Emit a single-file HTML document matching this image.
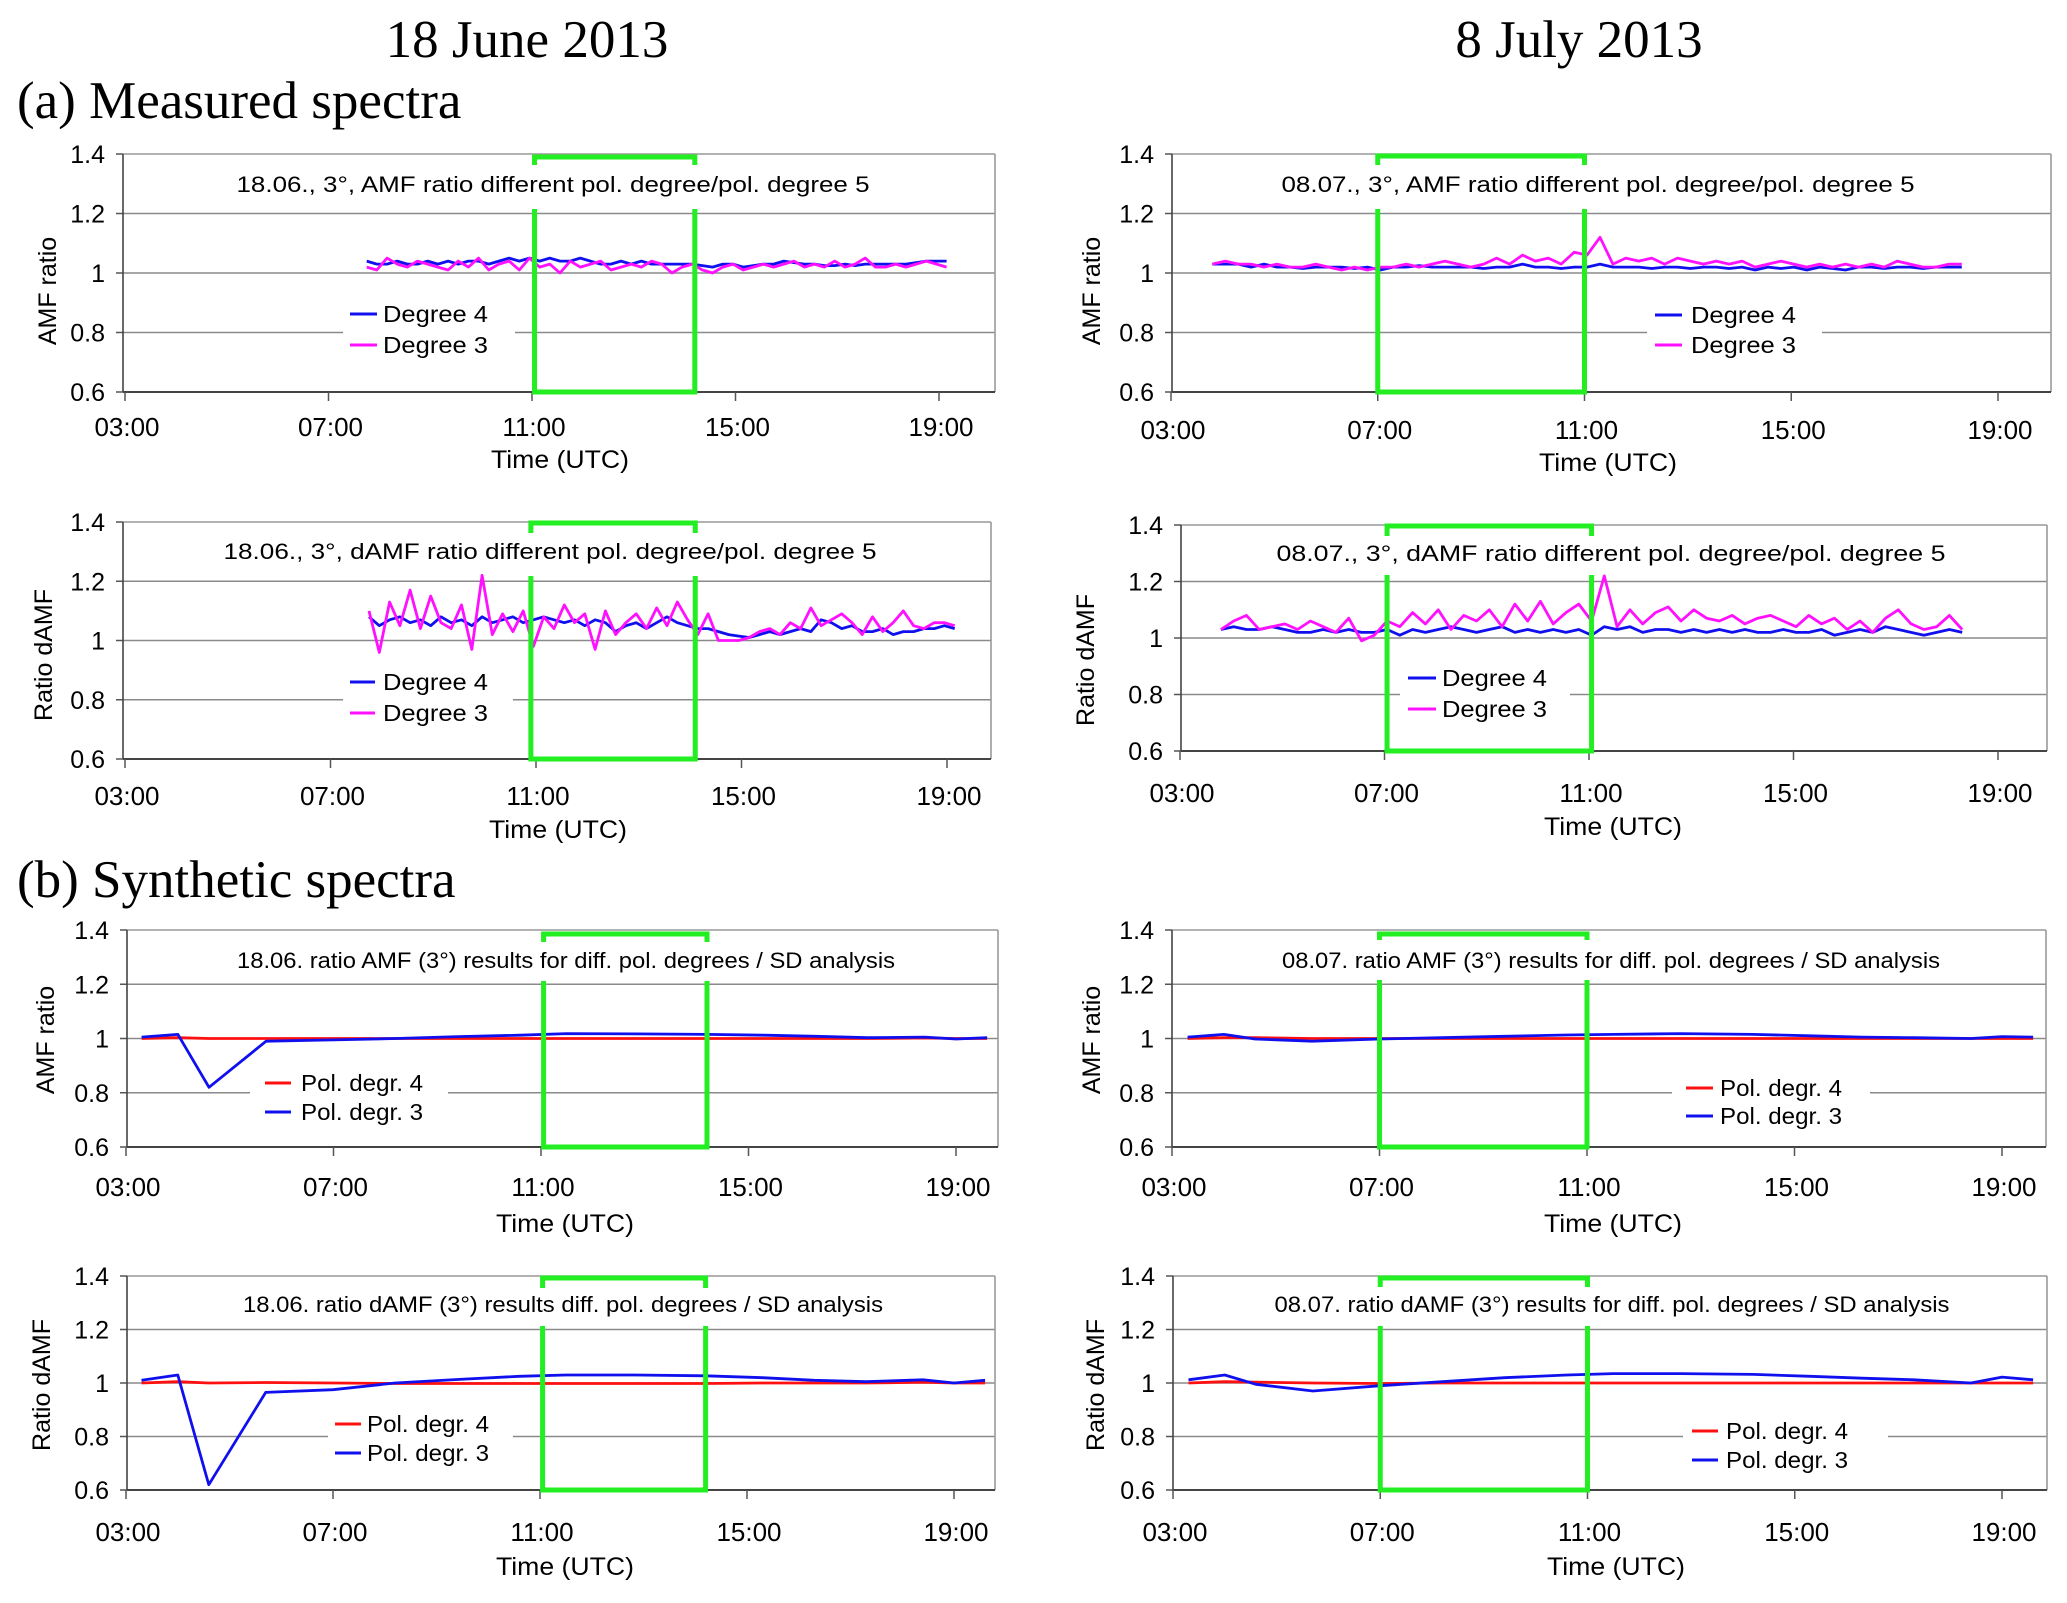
<!DOCTYPE html>
<html><head><meta charset="utf-8"><style>
html,body{margin:0;padding:0;background:#fff;}
svg{display:block;}
text{font-family:"Liberation Sans",Arial,sans-serif;fill:#000;}
.serif{font-family:"Liberation Serif","Times New Roman",serif;}
</style></head><body>
<svg id="fig" width="2067" height="1603" viewBox="0 0 2067 1603" xmlns="http://www.w3.org/2000/svg">
<text class="serif" x="527" y="57" font-size="53" text-anchor="middle">18 June 2013</text>
<text class="serif" x="1579" y="57" font-size="53" text-anchor="middle">8 July 2013</text>
<text class="serif" x="17" y="118" font-size="53">(a) Measured spectra</text>
<text class="serif" x="17" y="897" font-size="53">(b) Synthetic spectra</text>
</svg>
<script>
// ---- data ----
const yTicks = [0.6, 0.8, 1.0, 1.2, 1.4];
const yTickLabels = ["0.6", "0.8", "1", "1.2", "1.4"];
const xTicks = [3, 7, 11, 15, 19];
const xTickLabels = ["03:00", "07:00", "11:00", "15:00", "19:00"];

const p1Start = 7.75, p1Step = 0.2;
const p1Deg4 = [1.04,1.03,1.03,1.04,1.03,1.03,1.04,1.03,1.04,1.03,1.04,1.04,1.03,1.04,1.05,1.04,1.05,1.04,1.05,1.04,1.04,1.05,1.04,1.03,1.03,1.04,1.03,1.04,1.03,1.03,1.03,1.03,1.03,1.025,1.02,1.03,1.03,1.02,1.025,1.03,1.03,1.04,1.035,1.03,1.03,1.025,1.025,1.03,1.025,1.03,1.03,1.03,1.03,1.03,1.035,1.04,1.04,1.04];
const p1Deg3 = [1.02,1.01,1.05,1.03,1.02,1.04,1.03,1.02,1.01,1.04,1.02,1.05,1.01,1.03,1.04,1.01,1.05,1.02,1.03,1.00,1.04,1.02,1.03,1.04,1.01,1.02,1.03,1.02,1.04,1.03,1.00,1.02,1.03,1.01,1.00,1.02,1.03,1.01,1.02,1.03,1.02,1.03,1.04,1.02,1.03,1.02,1.04,1.02,1.03,1.05,1.02,1.02,1.03,1.02,1.03,1.04,1.03,1.02];

const p2Start = 7.75, p2Step = 0.2;
const p2Deg4 = [1.08,1.05,1.07,1.08,1.06,1.07,1.05,1.08,1.06,1.07,1.05,1.08,1.06,1.07,1.08,1.06,1.07,1.08,1.07,1.06,1.07,1.05,1.07,1.06,1.03,1.05,1.06,1.04,1.06,1.08,1.06,1.05,1.04,1.04,1.03,1.02,1.015,1.01,1.02,1.03,1.02,1.03,1.04,1.03,1.07,1.06,1.04,1.05,1.03,1.03,1.04,1.02,1.03,1.03,1.04,1.04,1.05,1.04];
const p2Deg3 = [1.10,0.96,1.13,1.05,1.17,1.04,1.15,1.06,1.04,1.12,0.97,1.22,1.02,1.09,1.03,1.10,0.98,1.08,1.04,1.12,1.06,1.09,0.97,1.10,1.02,1.06,1.09,1.04,1.11,1.05,1.13,1.07,1.02,1.09,1.00,1.00,1.00,1.01,1.03,1.04,1.02,1.06,1.04,1.11,1.05,1.07,1.09,1.06,1.02,1.08,1.03,1.06,1.10,1.05,1.04,1.06,1.06,1.05];

const p3Start = 3.8, p3Step = 0.25;
const p3Deg4 = [1.03,1.03,1.03,1.02,1.03,1.02,1.02,1.015,1.02,1.02,1.02,1.015,1.02,1.01,1.02,1.02,1.025,1.02,1.02,1.02,1.02,1.015,1.02,1.02,1.03,1.02,1.02,1.015,1.02,1.02,1.03,1.02,1.02,1.02,1.015,1.02,1.02,1.015,1.02,1.02,1.015,1.02,1.01,1.02,1.015,1.02,1.01,1.02,1.015,1.01,1.02,1.02,1.015,1.02,1.02,1.015,1.02,1.02,1.02];
const p3Deg3 = [1.03,1.04,1.03,1.03,1.02,1.03,1.02,1.02,1.03,1.02,1.01,1.02,1.01,1.02,1.02,1.03,1.02,1.03,1.04,1.03,1.02,1.03,1.05,1.03,1.06,1.04,1.05,1.03,1.07,1.06,1.12,1.03,1.05,1.04,1.05,1.03,1.05,1.04,1.03,1.04,1.03,1.04,1.02,1.03,1.04,1.03,1.02,1.03,1.02,1.03,1.02,1.03,1.02,1.04,1.03,1.02,1.02,1.03,1.03];

const p4Start = 3.8, p4Step = 0.25;
const p4Deg4 = [1.03,1.04,1.03,1.03,1.04,1.03,1.02,1.02,1.03,1.02,1.03,1.02,1.02,1.03,1.01,1.03,1.02,1.03,1.04,1.03,1.02,1.03,1.04,1.02,1.03,1.02,1.03,1.02,1.03,1.01,1.04,1.03,1.04,1.02,1.03,1.03,1.02,1.03,1.02,1.03,1.02,1.03,1.02,1.02,1.03,1.02,1.02,1.03,1.01,1.02,1.03,1.02,1.04,1.03,1.02,1.01,1.02,1.03,1.02];
const p4Deg3 = [1.03,1.06,1.08,1.03,1.04,1.05,1.03,1.06,1.04,1.02,1.07,0.99,1.01,1.06,1.04,1.09,1.05,1.10,1.03,1.08,1.06,1.10,1.04,1.12,1.06,1.13,1.05,1.09,1.12,1.06,1.22,1.04,1.10,1.05,1.09,1.11,1.06,1.10,1.07,1.06,1.08,1.05,1.07,1.08,1.06,1.04,1.08,1.05,1.07,1.03,1.06,1.02,1.07,1.10,1.05,1.03,1.04,1.08,1.03];

const synthTimes = [3.3,4.0,4.6,5.7,7.0,8.2,9.4,10.6,11.5,12.8,14.2,15.3,16.3,17.3,18.4,19.0,19.6];
const p5Red  = [1.0,1.003,1.0,1.0,1.0,1.0,1.0,1.0,1.0,1.0,1.0,1.0,1.0,1.0,1.002,1.0,1.0];
const p5Blue = [1.005,1.015,0.82,0.99,0.995,1.0,1.007,1.012,1.018,1.017,1.015,1.012,1.008,1.003,1.005,0.998,1.003];
const p6Red  = [1.0,1.005,1.0,1.002,1.0,0.998,0.998,0.998,0.998,0.998,0.998,1.0,1.0,1.0,1.003,1.0,1.0];
const p6Blue = [1.01,1.03,0.62,0.965,0.975,1.0,1.013,1.025,1.03,1.03,1.027,1.02,1.01,1.005,1.012,1.0,1.01];
const p7Red  = [1.0,1.003,1.003,1.0,1.0,1.0,1.0,1.0,1.0,1.0,1.0,1.0,1.0,1.0,1.0,1.0,1.0];
const p7Blue = [1.005,1.015,0.998,0.99,0.998,1.003,1.008,1.013,1.015,1.018,1.015,1.01,1.005,1.003,1.0,1.007,1.005];
const p8Red  = [1.0,1.005,1.003,1.0,0.998,1.0,1.0,1.0,1.0,1.0,1.0,1.0,1.0,1.0,1.0,1.0,1.0];
const p8Blue = [1.012,1.03,0.995,0.97,0.99,1.005,1.02,1.03,1.035,1.035,1.032,1.025,1.018,1.012,1.0,1.022,1.012];

const greenJune = [11.05, 14.2];
const greenJuly = [7.0, 11.0];

function seqTimes(start, step, n){ const t=[]; for(let i=0;i<n;i++) t.push(start+i*step); return t; }

// ---- layout (pixels) ----
const panels = [
 {id:'p1', L:123,R:995,T:154,B:392,x3:125,x19:939, title:"18.06., 3°, AMF ratio different pol. degree/pol. degree 5", tx:553,ty:192,tw:633, ylab:"AMF ratio", ylx:48,yly:291,
  series:[{t:seqTimes(p1Start,p1Step,p1Deg4.length),v:p1Deg4,c:'#1010ee',n:'degree-4'},{t:seqTimes(p1Start,p1Step,p1Deg3.length),v:p1Deg3,c:'#ff10ff',n:'degree-3'}],
  green:greenJune, gTop:157, gGap:[165,209],
  leg:{x1:350,x2:377,tx:383,y1:314,y2:345,bx1:343,bx2:515,labels:["Degree 4","Degree 3"],tw:105}, tickY:436, timeX:560,timeY:468},
 {id:'p2', L:123,R:991,T:522,B:759,x3:125,x19:947, title:"18.06., 3°, dAMF ratio different pol. degree/pol. degree 5", tx:550,ty:559,tw:653, ylab:"Ratio dAMF", ylx:44,yly:655,
  series:[{t:seqTimes(p2Start,p2Step,p2Deg4.length),v:p2Deg4,c:'#1010ee',n:'degree-4'},{t:seqTimes(p2Start,p2Step,p2Deg3.length),v:p2Deg3,c:'#ff10ff',n:'degree-3'}],
  green:[10.9, 14.1], gTop:523, gGap:[533,576],
  leg:{x1:350,x2:375,tx:383,y1:682,y2:713,bx1:343,bx2:513,labels:["Degree 4","Degree 3"],tw:105}, tickY:805, timeX:558,timeY:838},
 {id:'p3', L:1172,R:2051,T:154,B:392,x3:1171,x19:1998, title:"08.07., 3°, AMF ratio different pol. degree/pol. degree 5", tx:1598,ty:192,tw:633, ylab:"AMF ratio", ylx:1092,yly:291,
  series:[{t:seqTimes(p3Start,p3Step,p3Deg4.length),v:p3Deg4,c:'#1010ee',n:'degree-4'},{t:seqTimes(p3Start,p3Step,p3Deg3.length),v:p3Deg3,c:'#ff10ff',n:'degree-3'}],
  green:greenJuly, gTop:156, gGap:[165,209],
  leg:{x1:1655,x2:1682,tx:1691,y1:315,y2:345,bx1:1647,bx2:1822,labels:["Degree 4","Degree 3"],tw:105}, tickY:439, timeX:1608,timeY:471},
 {id:'p4', L:1181,R:2047,T:525,B:751,x3:1180,x19:1998, title:"08.07., 3°, dAMF ratio different pol. degree/pol.   degree 5", tx:1611,ty:561,tw:669, ylab:"Ratio dAMF", ylx:1086,yly:660,
  series:[{t:seqTimes(p4Start,p4Step,p4Deg4.length),v:p4Deg4,c:'#1010ee',n:'degree-4'},{t:seqTimes(p4Start,p4Step,p4Deg3.length),v:p4Deg3,c:'#ff10ff',n:'degree-3'}],
  green:[7.05, 11.05], gTop:526, gGap:[536,575],
  leg:{x1:1408,x2:1436,tx:1442,y1:678,y2:709,bx1:1400,bx2:1570,labels:["Degree 4","Degree 3"],tw:105}, tickY:802, timeX:1613,timeY:835},
 {id:'p5', L:127,R:998,T:930,B:1147,x3:126,x19:956, title:"18.06. ratio AMF (3°) results for diff. pol. degrees / SD analysis", tx:566,ty:968,tw:658, ylab:"AMF ratio", ylx:46,yly:1040,
  series:[{t:synthTimes,v:p5Red,c:'#ff1010',n:'pol-degr-4'},{t:synthTimes,v:p5Blue,c:'#1010ee',n:'pol-degr-3'}],
  green:greenJune, gTop:934, gGap:[942,981],
  leg:{x1:265,x2:291,tx:301,y1:1083,y2:1112,bx1:250,bx2:448,labels:["Pol. degr. 4","Pol. degr. 3"],tw:122}, tickY:1196, timeX:565,timeY:1232},
 {id:'p6', L:127,R:995,T:1276,B:1490,x3:126,x19:954, title:"18.06. ratio dAMF (3°) results diff. pol. degrees / SD analysis", tx:563,ty:1312,tw:640, ylab:"Ratio dAMF", ylx:42,yly:1385,
  series:[{t:synthTimes,v:p6Red,c:'#ff1010',n:'pol-degr-4'},{t:synthTimes,v:p6Blue,c:'#1010ee',n:'pol-degr-3'}],
  green:greenJune, gTop:1278, gGap:[1288,1326],
  leg:{x1:335,x2:361,tx:367,y1:1424,y2:1453,bx1:328,bx2:513,labels:["Pol. degr. 4","Pol. degr. 3"],tw:122}, tickY:1541, timeX:565,timeY:1575},
 {id:'p7', L:1172,R:2046,T:930,B:1147,x3:1172,x19:2002, title:"08.07. ratio AMF (3°) results for diff. pol. degrees / SD analysis", tx:1611,ty:968,tw:658, ylab:"AMF ratio", ylx:1092,yly:1040,
  series:[{t:synthTimes,v:p7Red,c:'#ff1010',n:'pol-degr-4'},{t:synthTimes,v:p7Blue,c:'#1010ee',n:'pol-degr-3'}],
  green:greenJuly, gTop:934, gGap:[940,980],
  leg:{x1:1686,x2:1713,tx:1720,y1:1088,y2:1116,bx1:1672,bx2:1870,labels:["Pol. degr. 4","Pol. degr. 3"],tw:122}, tickY:1196, timeX:1613,timeY:1232},
 {id:'p8', L:1173,R:2047,T:1276,B:1490,x3:1173,x19:2002, title:"08.07. ratio dAMF (3°) results for diff. pol. degrees / SD analysis", tx:1612,ty:1312,tw:675, ylab:"Ratio dAMF", ylx:1096,yly:1385,
  series:[{t:synthTimes,v:p8Red,c:'#ff1010',n:'pol-degr-4'},{t:synthTimes,v:p8Blue,c:'#1010ee',n:'pol-degr-3'}],
  green:greenJuly, gTop:1278, gGap:[1287,1326],
  leg:{x1:1692,x2:1718,tx:1726,y1:1431,y2:1460,bx1:1683,bx2:1888,labels:["Pol. degr. 4","Pol. degr. 3"],tw:122}, tickY:1541, timeX:1616,timeY:1575}
];

const NS = "http://www.w3.org/2000/svg";
const svg = document.getElementById('fig');
function mk(tag, attrs, parent){
  const e = document.createElementNS(NS, tag);
  for (const k in attrs) e.setAttribute(k, attrs[k]);
  (parent||svg).appendChild(e);
  return e;
}

panels.forEach(p => {
  const g = mk('g', {});
  
  
  const xs = h => p.x3 + (h - 3) * (p.x19 - p.x3) / 16;
  const ys = v => p.B - (v - 0.6) * (p.B - p.T) / 0.8;

  yTicks.forEach((v, i) => {
    const y = ys(v);
    if (i > 0) {
      const gl = mk('line', {x1:p.L, x2:p.R, y1:y, y2:y, stroke: i===4 ? '#999' : '#8a8a8a', 'stroke-width':1.6}, g);
      
      
    }
    const tk = mk('line', {x1:p.L-7, x2:p.L, y1:y, y2:y, stroke:'#555', 'stroke-width':1.5}, g);
    
    
    const tl = mk('text', {x:p.L-18, y:y+9, 'font-size':25, 'text-anchor':'end'}, g);
    tl.textContent = yTickLabels[i];
    
    
  });
  const fr = mk('line', {x1:p.R, x2:p.R, y1:p.T, y2:p.B, stroke:'#999', 'stroke-width':1.6}, g);
  
  
  const ya = mk('line', {x1:p.L, x2:p.L, y1:p.T, y2:p.B, stroke:'#444', 'stroke-width':1.6}, g);
  
  
  const xa = mk('line', {x1:p.L, x2:p.R, y1:p.B, y2:p.B, stroke:'#444', 'stroke-width':2}, g);
  
  
  xTicks.forEach((h, i) => {
    const x = xs(h);
    const tk = mk('line', {x1:x, x2:x, y1:p.B, y2:p.B+9, stroke:'#555', 'stroke-width':1.5}, g);
    
    
    const tl = mk('text', {x:x+2, y:p.tickY, 'font-size':26, 'text-anchor':'middle'}, g);
    tl.textContent = xTickLabels[i];
    
    
  });
  const xt = mk('text', {x:p.timeX, y:p.timeY, 'font-size':25, 'text-anchor':'middle', textLength:138, lengthAdjust:'spacingAndGlyphs'}, g);
  xt.textContent = 'Time (UTC)';
  
  
  const yt = mk('text', {x:0, y:0, 'font-size':25, 'text-anchor':'middle', transform:`translate(${p.ylx+8},${p.yly}) rotate(-90)`}, g);
  yt.textContent = p.ylab;
  
  

  const lb = mk('rect', {x:p.leg.bx1, y:p.leg.y1-18, width:p.leg.bx2-p.leg.bx1, height:p.leg.y2-p.leg.y1+36, fill:'#fff'}, g);
  
  

  p.series.forEach(s => {
    const pts = s.v.map((v, i) => xs(s.t[i]).toFixed(1) + ',' + ys(v).toFixed(1)).join(' ');
    const pl = mk('polyline', {points:pts, fill:'none', stroke:s.c, 'stroke-width':2.8, 'stroke-linejoin':'round'}, g);
    
    
  });

  const tb = mk('rect', {x:p.tx-p.tw/2-6, y:p.gGap[0]+2, width:p.tw+12, height:p.gGap[1]-p.gGap[0]-4, fill:'#fff'}, g);
  
  

  const gx1 = xs(p.green[0]), gx2 = xs(p.green[1]);
  const gp = mk('path', {d:`M${gx1},${p.gGap[0]} V${p.gTop} H${gx2} V${p.gGap[0]} M${gx1},${p.gGap[1]} V${p.B} H${gx2} V${p.gGap[1]}`, fill:'none', stroke:'#22ee22', 'stroke-width':5}, g);
  
  

  const ti = mk('text', {x:p.tx, y:p.ty, 'font-size':22, 'text-anchor':'middle', textLength:p.tw, lengthAdjust:'spacingAndGlyphs'}, g);
  ti.textContent = p.title;
  
  

  [p.leg.y1, p.leg.y2].forEach((y, i) => {
    const ln = mk('line', {x1:p.leg.x1, x2:p.leg.x2, y1:y, y2:y, stroke:p.series[i].c, 'stroke-width':3}, g);
    
    
    const lt = mk('text', {x:p.leg.tx, y:y+8, 'font-size':23, textLength:p.leg.tw, lengthAdjust:'spacingAndGlyphs'}, g);
    lt.textContent = p.leg.labels[i];
    
    
  });
});
</script>
</body></html>
